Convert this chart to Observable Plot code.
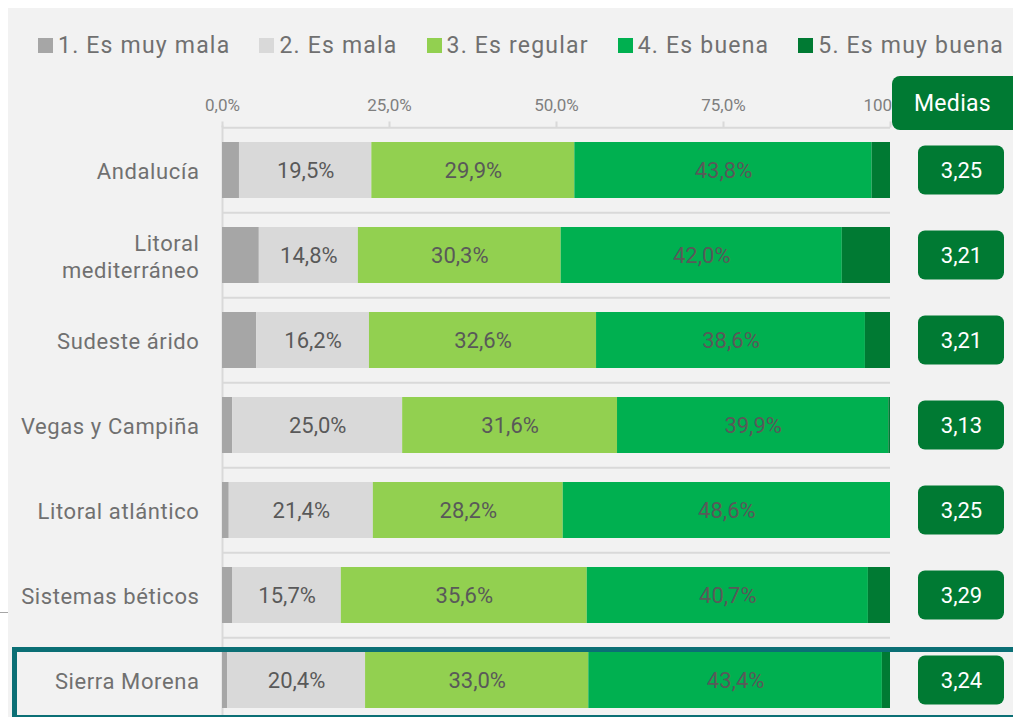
<!DOCTYPE html>
<html>
<head>
<meta charset="utf-8">
<script src="https://cdn.jsdelivr.net/npm/d3@7"></script>
<script src="https://cdn.jsdelivr.net/npm/@observablehq/plot@0.6"></script>
<style>
  body { margin: 0; background: #ffffff; font-family: Roboto, "Noto Sans", sans-serif; }
  #wrap { position: relative; width: 1013px; height: 717px; overflow: hidden; background: #ffffff; }
  #panel { position: absolute; left: 8px; top: 8px; right: 0; bottom: 0; background: #f2f2f2; }
  #stub { position: absolute; left: 0; top: 612px; width: 8px; height: 1px; background: #a6a6a6; }
  #main, #med { position: absolute; top: 0; }
  #main { left: 0; }
  #med { left: 890px; }
  #legend { position: absolute; left: 38px; top: 32px; display: flex; gap: 29px; align-items: center;
            font-size: 23px; color: #707070; letter-spacing: 1.2px; white-space: nowrap; }
  #legend .item { display: flex; align-items: center; gap: 5px; }
  #legend .sw { width: 15px; height: 15px; display: inline-block; }
  #header { position: absolute; left: 892px; top: 76px; width: 130px; height: 54px; box-sizing: border-box;
            padding-right: 9px; border-radius: 8px; background: #007a33; color: #ffffff; font-size: 23px;
            display: flex; align-items: center; justify-content: center; letter-spacing: 0.3px; }
  #highlight { position: absolute; left: 12px; top: 647px; width: 1020px; height: 73px; box-sizing: border-box;
               border: 5px solid #0b6f75; pointer-events: none; }
  #main svg g[aria-label="y-axis tick label"] text { letter-spacing: 0.6px; }
</style>
</head>
<body>
<div id="wrap">
  <div id="panel"></div>
  <div id="stub"></div>
  <div id="main"></div>
  <div id="med"></div>
  <div id="legend"></div>
  <div id="header">Medias</div>
  <div id="highlight"></div>
</div>
<script>
// ---- data ----
const regions = ["Andalucía", "Litoral mediterráneo", "Sudeste árido", "Vegas y Campiña",
                 "Litoral atlántico", "Sistemas béticos", "Sierra Morena"];
const categories = ["1. Es muy mala", "2. Es mala", "3. Es regular", "4. Es buena", "5. Es muy buena"];
const muyMala  = [2.5, 5.5, 4.9, 1.5, 1.0, 1.5, 0.75];
const mala     = [19.5, 14.8, 16.2, 25.0, 21.4, 15.7, 20.4];
const regular  = [29.9, 30.3, 32.6, 31.6, 28.2, 35.6, 33.0];
const buena    = [43.8, 42.0, 38.6, 39.9, 48.6, 40.7, 43.4];
const muyBuena = [2.7, 7.2, 3.6, 0.25, 0.0, 3.2, 1.2];
const medias   = [3.25, 3.21, 3.21, 3.13, 3.25, 3.29, 3.24];
const xTicks   = [0, 0.25, 0.5, 0.75, 1];
const colors   = ["#a6a6a6", "#d9d9d9", "#92d050", "#00b050", "#007a33"];
const labelled = ["2. Es mala", "3. Es regular", "4. Es buena"];

// ---- tidy rows ----
const series = [muyMala, mala, regular, buena, muyBuena];
const rows = [];
regions.forEach((r, i) => series.forEach((arr, k) => rows.push({region: r, cat: categories[k], value: arr[i]})));
const medRows = regions.map((r, i) => ({region: r, media: medias[i]}));

const comma = (v, d) => v.toFixed(d).replace(".", ",");

// ---- layout ----
const W = 1013, H = 717, mTop = 141, mBottom = 7, padIn = 0.34;
const step = (H - mTop - mBottom) / (regions.length - padIn);
const yScale = {domain: regions, paddingInner: padIn, paddingOuter: 0, axis: null, label: null};

const main = Plot.plot({
  width: W, height: H,
  marginLeft: 222, marginRight: 123, marginTop: mTop, marginBottom: mBottom,
  style: {background: "transparent", fontFamily: "Roboto, sans-serif", overflow: "visible"},
  x: {domain: [0, 1], axis: null, label: null},
  y: yScale,
  color: {domain: categories, range: colors},
  marks: [
    Plot.ruleY(regions, {y: d => d, dy: -step / 2, x1: 0, x2: 1, stroke: "#d9d9d9", strokeWidth: 2}),
    Plot.ruleX([0], {stroke: "#d9d9d9", strokeWidth: 2, insetTop: -(step / 2) * 0.34 - 1, insetBottom: -mBottom}),
    Plot.axisX({anchor: "top", ticks: xTicks, tickSize: 6, tickPadding: 10, dy: -(step * padIn / 2),
                label: null, stroke: "#d9d9d9", strokeWidth: 2, fill: "#7f7f7f", fontSize: 17,
                tickFormat: d => comma(d * 100, 1) + "%"}),
    Plot.axisY({tickSize: 0, tickPadding: 23, fontSize: 22, fill: "#707070", lineHeight: 1.23, label: null,
                tickFormat: d => d === "Litoral mediterráneo" ? "Litoral\nmediterráneo" : d}),
    Plot.barX(rows, Plot.stackX({x: "value", y: "region", fill: "cat", offset: "normalize"})),
    Plot.text(rows, Plot.stackX({x: "value", y: "region", z: "cat", offset: "normalize",
      text: d => labelled.includes(d.cat) ? comma(d.value, 1) + "%" : "",
      fill: "#595959", fontSize: 22}))
  ]
});
document.getElementById("main").appendChild(main);

const med = Plot.plot({
  width: 123, height: H,
  marginLeft: 28, marginRight: 9, marginTop: mTop, marginBottom: mBottom,
  style: {background: "transparent", fontFamily: "Roboto, sans-serif"},
  y: yScale,
  marks: [
    Plot.cell(medRows, {y: "region", fill: "#007a33", rx: 7, insetTop: 3.5, insetBottom: 3.5}),
    Plot.text(medRows, {y: "region", frameAnchor: "middle", text: d => comma(d.media, 2), fill: "#ffffff", fontSize: 22})
  ]
});
document.getElementById("med").appendChild(med);

// ---- legend ----
const legend = document.getElementById("legend");
categories.forEach((c, k) => {
  const it = document.createElement("span");
  it.className = "item";
  it.innerHTML = `<span class="sw" style="background:${colors[k]}"></span><span>${c}</span>`;
  legend.appendChild(it);
});
</script>
</body>
</html>
